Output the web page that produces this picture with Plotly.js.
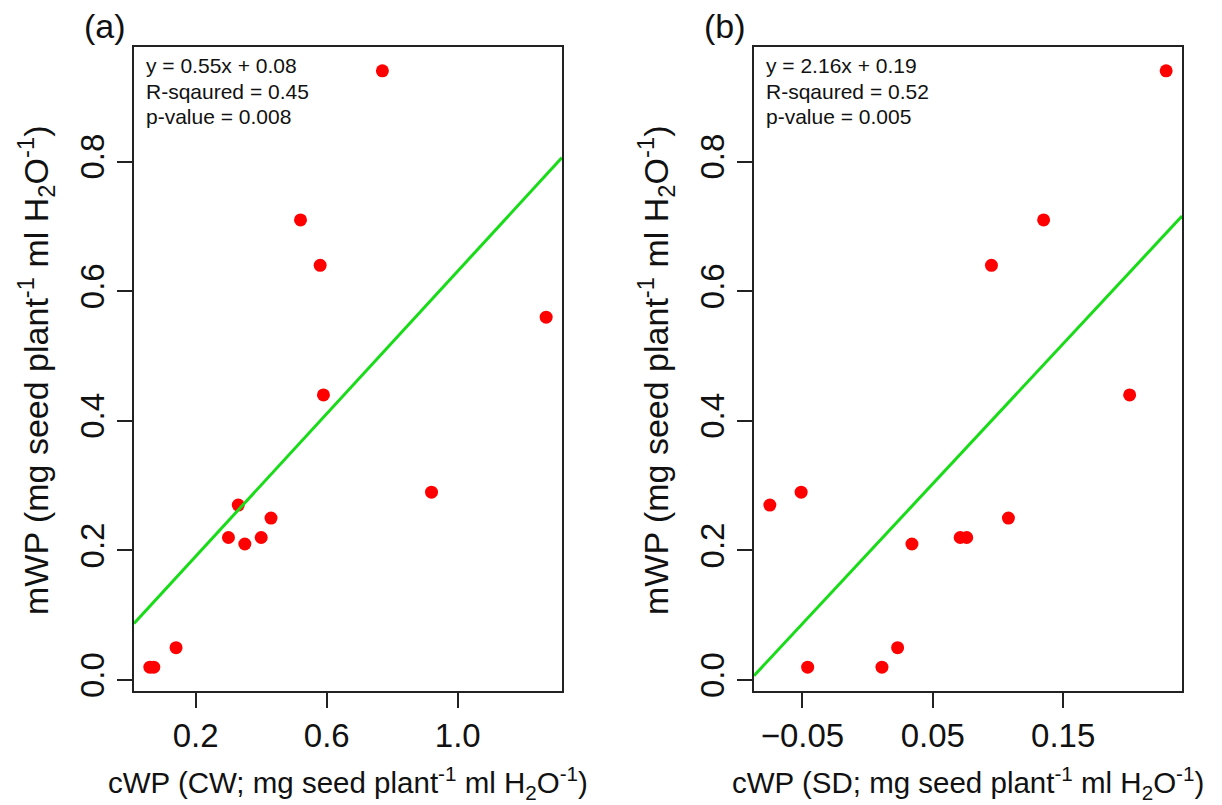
<!DOCTYPE html>
<html>
<head>
<meta charset="utf-8">
<script src="https://cdn.plot.ly/plotly-3.0.1.min.js"></script>
<style>
  html, body { margin: 0; padding: 0; background: #ffffff; }
  #chart { width: 1222px; height: 805px; }
</style>
</head>
<body>
<div id="chart"></div>
<script>
// ---------------- data ----------------
// Panel (a): cWP (CW) vs mWP
const cwpCW = [0.77, 0.52, 0.58, 1.27, 0.59, 0.92, 0.33, 0.43, 0.30, 0.35, 0.40, 0.14, 0.06, 0.072];
const mwpA  = [0.94, 0.71, 0.64, 0.56, 0.44, 0.29, 0.27, 0.25, 0.22, 0.21, 0.22, 0.05, 0.02, 0.02];
// Panel (b): cWP (SD) vs mWP
const cwpSD = [0.229, 0.135, 0.095, 0.201, -0.051, -0.075, 0.108, 0.034, 0.071, 0.076, -0.046, 0.011, 0.023];
const mwpB  = [0.94, 0.71, 0.64, 0.44, 0.29, 0.27, 0.25, 0.21, 0.22, 0.22, 0.02, 0.02, 0.05];
// regression coefficients [slope, intercept]
const fitA = [0.55, 0.081];
const fitB = [2.16, 0.195];
// tick values
const xTicksA = [0.2, 0.6, 1.0];
const xTicksB = [-0.05, 0.05, 0.15];
const yTicks  = [0.0, 0.2, 0.4, 0.6, 0.8];
// text
const statsA = ["y = 0.55x + 0.08", "R-sqaured = 0.45", "p-value = 0.008"];
const statsB = ["y = 2.16x + 0.19", "R-sqaured = 0.52", "p-value = 0.005"];
const panelLabels = ["(a)", "(b)"];
const xTitleA = "cWP (CW; mg seed plant<sup>-1</sup> ml H<sub>2</sub>O<sup>-1</sup>)";
const xTitleB = "cWP (SD; mg seed plant<sup>-1</sup> ml H<sub>2</sub>O<sup>-1</sup>)";
const yTitle  = "mWP (mg seed plant<sup>-1</sup> ml H<sub>2</sub>O<sup>-1</sup>)";

// ---------------- helpers ----------------
const W = 1222, H = 805;
const FONT = "Liberation Sans, Arial, Helvetica, sans-serif";
function rRange(v) { // R-style 4% padding
  const mn = Math.min(...v), mx = Math.max(...v), d = mx - mn;
  return [mn - 0.04 * d, mx + 0.04 * d];
}
const px = x => x / W;
const py = y => 1 - y / H;

const boxA = {l: 134, r: 562}, boxB = {l: 754, r: 1182};
const boxT = 47, boxBot = 691;

const xrA = rRange(cwpCW), xrB = rRange(cwpSD);
const yrA = rRange(mwpA), yrB = rRange(mwpB);

const RED = "#ff0000", GREEN = "#18dc18";

const traces = [
  {x: cwpCW, y: mwpA, xaxis: "x", yaxis: "y", type: "scatter", mode: "markers",
   marker: {color: RED, size: 13}, hoverinfo: "x+y"},
  {x: xrA, y: xrA.map(v => fitA[0] * v + fitA[1]), xaxis: "x", yaxis: "y", type: "scatter", mode: "lines",
   line: {color: GREEN, width: 3}, hoverinfo: "skip"},
  {x: cwpSD, y: mwpB, xaxis: "x2", yaxis: "y2", type: "scatter", mode: "markers",
   marker: {color: RED, size: 13}, hoverinfo: "x+y"},
  {x: xrB, y: xrB.map(v => fitB[0] * v + fitB[1]), xaxis: "x2", yaxis: "y2", type: "scatter", mode: "lines",
   line: {color: GREEN, width: 3}, hoverinfo: "skip"}
];

const axisCommon = {
  showgrid: false, zeroline: false, showline: true, mirror: true,
  linecolor: "#222", linewidth: 1.6, ticks: "outside", ticklen: 15, tickwidth: 1.6, tickcolor: "#222",
  tickfont: {family: FONT, size: 33, color: "#111"}
};

const domY = [py(boxBot), py(boxT)];

const layout = {
  width: W, height: H,
  margin: {l: 0, r: 0, t: 0, b: 0},
  paper_bgcolor: "#ffffff", plot_bgcolor: "#ffffff",
  showlegend: false,
  font: {family: FONT, color: "#111"},
  xaxis: Object.assign({}, axisCommon, {domain: [px(boxA.l), px(boxA.r)], range: xrA, anchor: "y",
    tickvals: xTicksA, tickformat: ".1f"}),
  yaxis: Object.assign({}, axisCommon, {domain: domY, range: yrA, anchor: "x",
    tickvals: yTicks, tickformat: ".1f", tickangle: -90}),
  xaxis2: Object.assign({}, axisCommon, {domain: [px(boxB.l), px(boxB.r)], range: xrB, anchor: "y2",
    tickvals: xTicksB, tickformat: ".2f"}),
  yaxis2: Object.assign({}, axisCommon, {domain: domY, range: yrB, anchor: "x2",
    tickvals: yTicks, tickformat: ".1f", tickangle: -90}),
  annotations: []
};

const ann = layout.annotations;
[[boxA, statsA, panelLabels[0], xTitleA], [boxB, statsB, panelLabels[1], xTitleB]].forEach(([b, stats, lab, xt]) => {
  stats.forEach((s, i) => ann.push({
    xref: "paper", yref: "paper", x: px(b.l + 10), y: py(65 + i * 26), xanchor: "left", yanchor: "middle",
    text: s, showarrow: false, font: {family: FONT, size: 21, color: "#111"}
  }));
  ann.push({xref: "paper", yref: "paper", x: px(b.l - 6), y: py(26), xanchor: "right", yanchor: "middle",
    text: lab, showarrow: false, font: {family: FONT, size: 34, color: "#111"}});
  ann.push({xref: "paper", yref: "paper", x: px((b.l + b.r) / 2), y: py(783), xanchor: "center", yanchor: "middle",
    text: xt, showarrow: false, font: {family: FONT, size: 29.5, color: "#111"}});
  ann.push({xref: "paper", yref: "paper", x: px(b.l - 98), y: py(370), xanchor: "center", yanchor: "middle",
    text: yTitle, textangle: -90, showarrow: false, font: {family: FONT, size: 34, color: "#111"}});
});

Plotly.newPlot("chart", traces, layout, {staticPlot: false, displayModeBar: false});
</script>
</body>
</html>
